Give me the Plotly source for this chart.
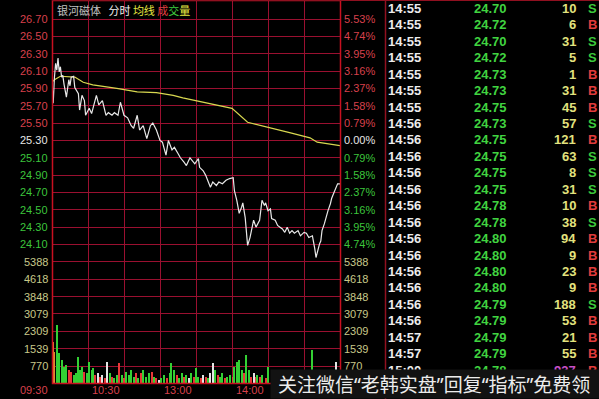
import plotly.graph_objects as go

W, H = 599, 399

# ---------------- data ----------------
price_t = [0, 1, 2, 3, 4, 5, 6, 7, 8, 9, 10, 12, 14, 15, 16, 18, 19, 22, 23, 25, 27, 28, 31, 33, 37, 39,
           42, 45, 47, 50, 52, 55, 57, 60, 63, 66, 68, 71, 73, 76, 79, 82, 84, 87, 90, 92, 95, 97, 100,
           102, 105, 107, 110, 112, 114, 115, 119, 122, 123, 126, 128, 132, 134, 137, 139, 142, 145, 148,
           151, 152, 154, 156, 158, 159, 161, 162, 163, 165, 167, 168, 170, 172, 173, 175, 177, 178, 180,
           182, 183, 186, 188, 190, 192, 194, 196, 198, 200, 202, 205, 207, 210, 212, 214, 217, 218, 219,
           220, 221, 223, 224, 225, 227, 228, 230, 232, 233, 235, 237, 238, 240]
price_v = [25.97, 25.73, 26.02, 26.19, 26.11, 26.25, 26.09, 26.15, 26.03, 26.05, 25.95, 25.80, 26.00, 25.93,
           26.03, 26.04, 25.91, 25.84, 25.65, 25.82, 25.76, 25.59, 25.67, 25.61, 25.82, 25.71, 25.76, 25.59,
           25.62, 25.59, 25.62, 25.59, 25.74, 25.59, 25.56, 25.47, 25.44, 25.59, 25.42, 25.47, 25.32, 25.47,
           25.50, 25.42, 25.30, 25.28, 25.13, 25.30, 25.19, 25.22, 25.15, 25.10, 25.05, 25.01, 25.07, 25.10,
           25.03, 25.09, 24.99, 24.95, 24.90, 24.76, 24.82, 24.78, 24.82, 24.80, 24.84, 24.86, 24.87, 24.72,
           24.61, 24.46, 24.53, 24.58, 24.41, 24.23, 24.09, 24.18, 24.30, 24.38, 24.30, 24.35, 24.38, 24.61,
           24.55, 24.58, 24.49, 24.51, 24.40, 24.38, 24.32, 24.30, 24.28, 24.24, 24.30, 24.23, 24.26, 24.23,
           24.26, 24.20, 24.24, 24.23, 24.18, 24.20, 24.14, 24.05, 23.95, 24.01, 24.11, 24.14, 24.26, 24.34,
           24.40, 24.49, 24.57, 24.63, 24.70, 24.78, 24.80, 24.80]

avg_t = [0, 2, 7, 19, 26, 34, 54, 71, 87, 101, 109, 123, 150, 163, 182, 198, 215, 221, 240]
avg_v = [25.97, 26.00, 26.04, 26.03, 25.97, 25.94, 25.90, 25.86, 25.85, 25.82, 25.79, 25.75, 25.67,
         25.51, 25.44, 25.39, 25.33, 25.28, 25.24]

vol_t = [0, 1, 2, 4, 6, 8, 10, 12, 14, 16, 18, 20, 22, 23, 25, 27, 29, 31, 33, 34, 36, 38, 40, 42, 44, 46,
         48, 50, 52, 54, 56, 58, 60, 62, 64, 66, 68, 70, 72, 74, 76, 78, 81, 83, 85, 87, 89, 91, 93, 96,
         98, 99, 102, 104, 106, 108, 110, 112, 114, 116, 118, 120, 122, 124, 126, 128, 130, 132, 134,
         136, 138, 140, 142, 144, 146, 148, 151, 152, 154, 156, 158, 160, 162, 164, 166, 168, 170, 171,
         173, 175, 178, 180, 217, 237]
vol_v = [4900, 1850, 1400, 2585, 1330, 1030, 740, 810, 590, 520, 370, 440, 1180, 590, 740, 520, 440, 960,
         590, 660, 370, 440, 300, 370, 220, 960, 440, 300, 220, 370, 890, 370, 220, 520, 370, 590, 300,
         440, 220, 440, 590, 300, 440, 520, 300, 220, 150, 220, 370, 220, 440, 890, 590, 370, 220, 440,
         300, 370, 220, 440, 300, 660, 300, 220, 370, 300, 220, 440, 890, 590, 370, 300, 440, 220, 300,
         370, 300, 740, 960, 1030, 590, 440, 1255, 590, 300, 440, 300, 370, 300, 370, 220, 740, 1500, 950]
vol_dir = ['up', 'open', 'open', 'down', 'down', 'down', 'down', 'down', 'up', 'up', 'down', 'down', 'down',
           'down', 'down', 'up', 'down', 'down', 'down', 'down', 'up', 'flat', 'up', 'flat', 'up', 'flat',
           'down', 'up', 'down', 'down', 'up', 'down', 'up', 'down', 'down', 'down', 'down', 'up', 'down',
           'up', 'down', 'down', 'down', 'up', 'down', 'up', 'flat', 'down', 'down', 'up', 'down', 'down',
           'down', 'up', 'down', 'down', 'up', 'down', 'flat', 'down', 'up', 'down', 'down', 'up', 'flat',
           'up', 'down', 'flat', 'flat', 'down', 'up', 'down', 'down', 'up', 'down', 'down', 'up', 'down',
           'down', 'down', 'down', 'up', 'down', 'down', 'up', 'flat', 'up', 'down', 'up', 'down', 'up',
           'down', 'down', 'flat']

price_levels = [26.70, 26.50, 26.30, 26.10, 25.90, 25.70, 25.50, 25.30, 25.10, 24.90, 24.70, 24.50, 24.30, 24.10]
pct_labels = ['5.53%', '4.74%', '3.95%', '3.16%', '2.37%', '1.58%', '0.79%', '0.00%',
              '0.79%', '1.58%', '2.37%', '3.16%', '3.95%', '4.74%']
prev_close = 25.30
vol_levels = [5388, 4618, 3848, 3079, 2309, 1539, 770]
time_ticks = [0, 60, 120, 180]
time_labels = ['09:30', '10:30', '13:00', '14:00']

tbl_time = ['14:55', '14:55', '14:55', '14:55', '14:55', '14:55', '14:55', '14:56', '14:56', '14:56',
            '14:56', '14:56', '14:56', '14:56', '14:56', '14:56', '14:56', '14:56', '14:56', '14:56',
            '14:57', '14:57', '15:00']
tbl_price = ['24.70', '24.72', '24.70', '24.72', '24.73', '24.73', '24.75', '24.73', '24.75', '24.75',
             '24.75', '24.75', '24.78', '24.78', '24.80', '24.80', '24.80', '24.80', '24.79', '24.79',
             '24.79', '24.79', '24.78']
tbl_vol = [10, 6, 31, 5, 1, 31, 45, 57, 121, 63, 8, 31, 10, 38, 94, 9, 23, 9, 188, 53, 21, 55, 937]
tbl_bs = ['S', 'B', 'S', 'S', 'B', 'B', 'B', 'S', 'B', 'S', 'S', 'S', 'B', 'S', 'B', 'B', 'B', 'B', 'S',
          'B', 'B', 'B', 'B']

# ---------------- styling / geometry ----------------
RED_TXT = '#d8404c'
GRN_TXT = '#3cc43c'
WHT_TXT = '#e6e6e6'
VOL_TXT = '#c8c88a'
GRID = '#9a1030'
BORDER = '#c81020'
dir_color = {'up': '#e83838', 'down': '#34d034', 'flat': '#e4e4e4', 'open': '#e08a30'}

PX_L, PX_R, PX_T, PX_B = 52, 340, 1, 383
Y_REF, PX_PER_UNIT = 19, 86.73          # 26.70 sits at y=19
VOL_ZERO_Y, PX_PER_770 = 383.35, 17.35
PX_PER_MIN = (PX_R - PX_L) / 240


def py(y):
    return 1 - y / H


def pxx(x):
    return x / W


p_top = 26.70 + (Y_REF - PX_T) / PX_PER_UNIT
p_bot = 26.70 - (PX_B - Y_REF) / PX_PER_UNIT
v_top = (VOL_ZERO_Y - PX_T) / PX_PER_770 * 770
v_bot = (VOL_ZERO_Y - PX_B) / PX_PER_770 * 770

fig = go.Figure()
fig.add_trace(go.Bar(x=vol_t, y=vol_v, marker_color=[dir_color[d] for d in vol_dir],
                     marker_line_width=0, width=0.9, yaxis='y2', showlegend=False))
fig.add_trace(go.Scatter(x=avg_t, y=avg_v, mode='lines', line=dict(color='#d8d850', width=1.2),
                         showlegend=False))
fig.add_trace(go.Scatter(x=price_t, y=price_v, mode='lines', line=dict(color='#e8e8e8', width=1.2),
                         showlegend=False))

ann = []
# title
ann.append(dict(xref='paper', yref='paper', x=pxx(55), y=py(10), xanchor='left', yanchor='middle',
                showarrow=False, font=dict(family='Noto Sans CJK SC', size=11),
                text=("<span style='color:#c0c0c0'>银河磁体</span>&nbsp;&nbsp;&nbsp;"
                      "<span style='color:#f0f0f0'>分时</span>&nbsp;"
                      "<span style='color:#e8e840'>均线</span>&nbsp;"
                      "<span style='color:#e04040'>成</span>"
                      "<span style='color:#40d040'>交</span>"
                      "<span style='color:#e8e840'>量</span>")))
# price labels (left) and percent labels (right)
for lv, pct in zip(price_levels, pct_labels):
    if lv > prev_close + 1e-9:
        c = RED_TXT
    elif abs(lv - prev_close) < 1e-9:
        c = WHT_TXT
    else:
        c = GRN_TXT
    ann.append(dict(xref='paper', yref='y', x=pxx(50), y=lv, xanchor='right', yanchor='middle',
                    showarrow=False, text=f'{lv:.2f}', font=dict(color=c, size=11)))
    ann.append(dict(xref='paper', yref='y', x=pxx(342), y=lv, xanchor='left', yanchor='middle',
                    showarrow=False, text=pct, font=dict(color=c, size=11)))
for lv in vol_levels:
    ann.append(dict(xref='paper', yref='y2', x=pxx(50), y=lv, xanchor='right', yanchor='middle',
                    showarrow=False, text=str(lv), font=dict(color=VOL_TXT, size=11)))
    ann.append(dict(xref='paper', yref='y2', x=pxx(342), y=lv, xanchor='left', yanchor='middle',
                    showarrow=False, text=str(lv), font=dict(color=VOL_TXT, size=11)))
for tv, tl in zip(time_ticks, time_labels):
    ann.append(dict(xref='paper', yref='paper', x=pxx(PX_L + tv * PX_PER_MIN - 2), y=py(390),
                    xanchor='right', yanchor='middle',
                    showarrow=False, text=tl, font=dict(color=RED_TXT, size=11)))

# trade table
ROW0, ROWH = 8.3, 16.45
for i, (tt, pr, vv, bs) in enumerate(zip(tbl_time, tbl_price, tbl_vol, tbl_bs)):
    yy = py(ROW0 + i * ROWH)
    vcol = '#c850c8' if vv >= 500 else '#e2e27e'
    ann.append(dict(xref='paper', yref='paper', x=pxx(386), y=yy, xanchor='left', yanchor='middle',
                    showarrow=False, text=f'<b>{tt}</b>', font=dict(color='#ececec', size=13)))
    ann.append(dict(xref='paper', yref='paper', x=pxx(509), y=yy, xanchor='right', yanchor='middle',
                    showarrow=False, text=f'<b>{pr}</b>', font=dict(color='#40d440', size=13)))
    ann.append(dict(xref='paper', yref='paper', x=pxx(578), y=yy, xanchor='right', yanchor='middle',
                    showarrow=False, text=f'<b>{vv}</b>', font=dict(color=vcol, size=13)))
    ann.append(dict(xref='paper', yref='paper', x=pxx(592), y=yy, xanchor='center', yanchor='middle',
                    showarrow=False, text=f'<b>{bs}</b>',
                    font=dict(color='#e03c3c' if bs == 'B' else '#3cc83c', size=13)))

# watermark strip
ann.append(dict(xref='paper', yref='paper', x=pxx(270), y=py(399), xanchor='left', yanchor='bottom',
                showarrow=False, text=' ', width=335, height=28, bgcolor='#121212', borderpad=0,
                font=dict(size=10)))
ann.append(dict(xref='paper', yref='paper', x=pxx(276), y=py(385), xanchor='left', yanchor='middle',
                showarrow=False, text='关注微信“老韩实盘”回复“指标”免费领',
                font=dict(family='Noto Sans, Noto Sans CJK SC', size=19, color='#ececec')))

shapes = [
    dict(type='rect', xref='paper', yref='paper', x0=pxx(PX_L + 0.5), x1=pxx(PX_R + 0.5),
         y0=py(PX_B + 0.5), y1=py(PX_T - 0.5), line=dict(color=BORDER, width=1.5), layer='above'),
    dict(type='line', xref='paper', yref='paper', x0=pxx(385.5), x1=pxx(385.5), y0=0, y1=1,
         line=dict(color='#901020', width=1.5), layer='above'),
    dict(type='line', xref='paper', yref='paper', x0=pxx(PX_L), x1=1, y0=py(0.5), y1=py(0.5),
         line=dict(color='#901020', width=1), layer='above'),
]

fig.update_layout(
    width=W, height=H, margin=dict(l=0, r=0, t=0, b=0),
    paper_bgcolor='black', plot_bgcolor='black',
    font=dict(family='Liberation Sans', size=11, color='white'),
    bargap=0, showlegend=False,
    xaxis=dict(domain=[pxx(PX_L), pxx(PX_R)], range=[0, 240], tickvals=list(range(0, 241, 30)),
               showgrid=True, gridcolor=GRID, gridwidth=1, showticklabels=False, zeroline=False,
               showline=False, ticks=''),
    yaxis=dict(domain=[py(PX_B), py(PX_T)], range=[p_bot, p_top], tickvals=price_levels,
               showgrid=True, gridcolor=GRID, gridwidth=1, showticklabels=False, zeroline=False,
               ticks=''),
    yaxis2=dict(domain=[py(PX_B), py(PX_T)], range=[v_bot, v_top], tickvals=vol_levels, overlaying='y',
                showgrid=True, gridcolor=GRID, gridwidth=1, showticklabels=False, zeroline=False,
                ticks=''),
    annotations=ann, shapes=shapes,
)

fig.write_html('out.html')
